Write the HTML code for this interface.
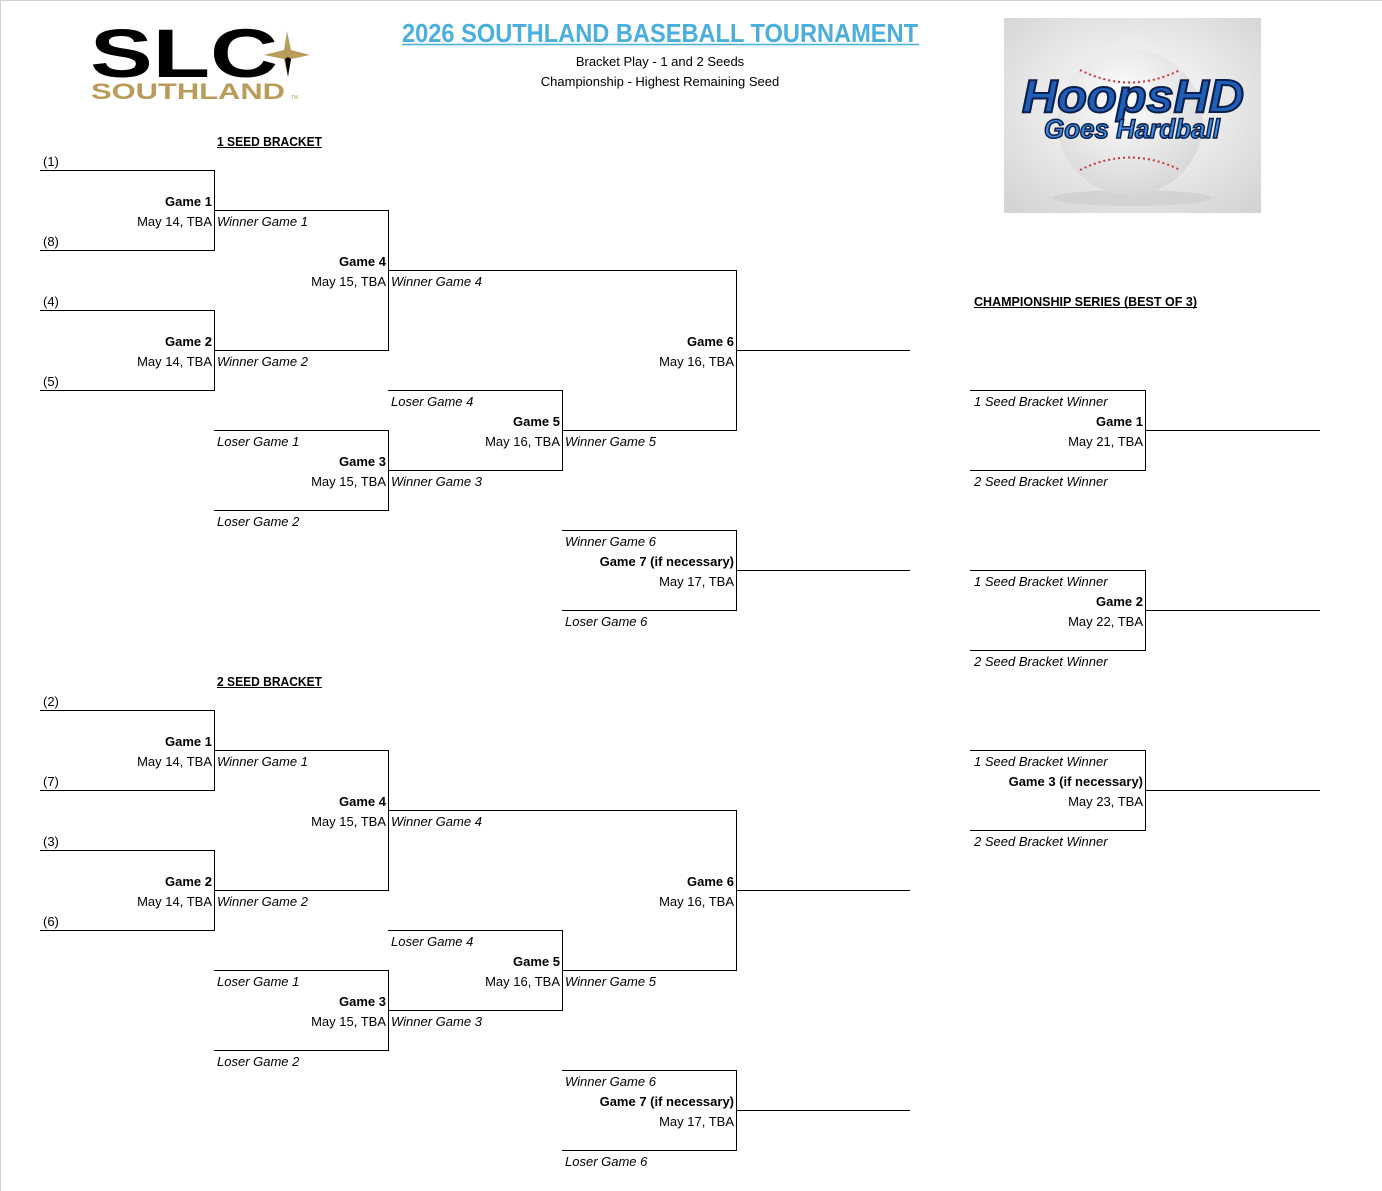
<!DOCTYPE html>
<html><head><meta charset="utf-8"><style>
html,body{margin:0;padding:0;background:#fff;}
svg{display:block;}
text{font-family:"Liberation Sans",sans-serif;font-size:13px;fill:#000;}
.b{font-weight:bold;}
.i{font-style:italic;}
</style></head><body>
<svg width="1382" height="1191" viewBox="0 0 1382 1191" xmlns="http://www.w3.org/2000/svg">
<rect x="0.5" y="0.5" width="1390" height="1200" fill="#fff" stroke="#d0d0d0"/>
<!-- SLC logo -->
<text x="90" y="78" transform="translate(0,-40) scale(1,1.5)" style="font-size:46px;font-weight:900;" textLength="188" lengthAdjust="spacingAndGlyphs" dy="0">SLC</text>
<path d="M287 31 L291 50 L310 55 L291 59 L288 78 L284 59 L264 55 L284 50 Z" fill="#b99b5a"/>
<path d="M288 57 L291 59 L288 76 L285 59 Z" fill="#000"/>
<text x="91" y="99" style="font-size:22px;font-weight:900;fill:#b99b5a" textLength="194" lengthAdjust="spacingAndGlyphs">SOUTHLAND</text>
<text x="291" y="99" style="font-size:5px;fill:#b99b5a">TM</text>
<!-- Title -->
<text x="660" y="42" text-anchor="middle" style="font-size:26px;font-weight:bold;fill:#4aaedf" textLength="516" lengthAdjust="spacingAndGlyphs">2026 SOUTHLAND BASEBALL TOURNAMENT</text>
<line x1="402" y1="44.5" x2="919" y2="44.5" stroke="#4aaedf" stroke-width="1.5"/>
<text x="660" y="66" text-anchor="middle" style="font-size:13px">Bracket Play - 1 and 2 Seeds</text>
<text x="660" y="86" text-anchor="middle" style="font-size:13px">Championship - Highest Remaining Seed</text>
<!-- HoopsHD logo -->
<defs>
<radialGradient id="bg" cx="50%" cy="45%" r="70%"><stop offset="0" stop-color="#ffffff"/><stop offset="1" stop-color="#d4d4d4"/></radialGradient>
<radialGradient id="ball" cx="45%" cy="35%" r="65%"><stop offset="0" stop-color="#ffffff"/><stop offset="1" stop-color="#d8d8d8"/></radialGradient>
</defs>
<rect x="1004" y="18" width="257" height="195" fill="url(#bg)"/>
<ellipse cx="1132" cy="198" rx="80" ry="8" fill="#c9c9c9" opacity="0.6"/>
<circle cx="1130" cy="122" r="73" fill="url(#ball)"/>
<path d="M1080 70 Q1130 95 1180 70" stroke="#c33" stroke-width="2" fill="none" stroke-dasharray="2 3"/>
<path d="M1080 170 Q1130 145 1180 170" stroke="#c33" stroke-width="2" fill="none" stroke-dasharray="2 3"/>
<text x="1022" y="112" style="font-size:46px;font-weight:900;font-style:italic;fill:#1f5fb8;stroke:#0b1f4a;stroke-width:2" textLength="222" lengthAdjust="spacingAndGlyphs">HoopsHD</text>
<text x="1044" y="138" style="font-size:27px;font-weight:900;font-style:italic;fill:#3f8be0;stroke:#0b1f4a;stroke-width:1.5" textLength="176" lengthAdjust="spacingAndGlyphs">Goes Hardball</text>

<g stroke="#000" stroke-width="1" fill="none">
<path d="M40 170.5H214.5V250.5H40"/>
<path d="M40 310.5H214.5V390.5H40"/>
<path d="M214 210.5H388.5V350.5H214"/>
<path d="M214 430.5H388.5V510.5H214"/>
<path d="M388 390.5H562.5V470.5H388"/>
<path d="M388 270.5H736.5V430.5H562"/>
<path d="M736 350.5H910"/>
<path d="M562 530.5H736.5V610.5H562"/>
<path d="M736 570.5H910"/>
</g>
<g>
<text x="217" y="146" class="b" textLength="105" lengthAdjust="spacingAndGlyphs">1 SEED BRACKET</text>
<line x1="217" y1="147.5" x2="322" y2="147.5" stroke="#000"/>
<text x="43" y="166">(1)</text>
<text x="43" y="246">(8)</text>
<text x="43" y="306">(4)</text>
<text x="43" y="386">(5)</text>
<text x="212" y="206" class="b" text-anchor="end">Game 1</text>
<text x="212" y="226" text-anchor="end">May 14, TBA</text>
<text x="217" y="226" class="i">Winner Game 1</text>
<text x="212" y="346" class="b" text-anchor="end">Game 2</text>
<text x="212" y="366" text-anchor="end">May 14, TBA</text>
<text x="217" y="366" class="i">Winner Game 2</text>
<text x="386" y="266" class="b" text-anchor="end">Game 4</text>
<text x="386" y="286" text-anchor="end">May 15, TBA</text>
<text x="391" y="286" class="i">Winner Game 4</text>
<text x="734" y="346" class="b" text-anchor="end">Game 6</text>
<text x="734" y="366" text-anchor="end">May 16, TBA</text>
<text x="391" y="406" class="i">Loser Game 4</text>
<text x="560" y="426" class="b" text-anchor="end">Game 5</text>
<text x="560" y="446" text-anchor="end">May 16, TBA</text>
<text x="565" y="446" class="i">Winner Game 5</text>
<text x="217" y="446" class="i">Loser Game 1</text>
<text x="386" y="466" class="b" text-anchor="end">Game 3</text>
<text x="386" y="486" text-anchor="end">May 15, TBA</text>
<text x="391" y="486" class="i">Winner Game 3</text>
<text x="217" y="526" class="i">Loser Game 2</text>
<text x="565" y="546" class="i">Winner Game 6</text>
<text x="734" y="566" class="b" text-anchor="end">Game 7 (if necessary)</text>
<text x="734" y="586" text-anchor="end">May 17, TBA</text>
<text x="565" y="626" class="i">Loser Game 6</text>
</g>

<g transform="translate(0,540)">
<g stroke="#000" stroke-width="1" fill="none">
<path d="M40 170.5H214.5V250.5H40"/>
<path d="M40 310.5H214.5V390.5H40"/>
<path d="M214 210.5H388.5V350.5H214"/>
<path d="M214 430.5H388.5V510.5H214"/>
<path d="M388 390.5H562.5V470.5H388"/>
<path d="M388 270.5H736.5V430.5H562"/>
<path d="M736 350.5H910"/>
<path d="M562 530.5H736.5V610.5H562"/>
<path d="M736 570.5H910"/>
</g>
<text x="217" y="146" class="b" textLength="105" lengthAdjust="spacingAndGlyphs">2 SEED BRACKET</text>
<line x1="217" y1="147.5" x2="322" y2="147.5" stroke="#000"/>
<text x="43" y="166">(2)</text>
<text x="43" y="246">(7)</text>
<text x="43" y="306">(3)</text>
<text x="43" y="386">(6)</text>
<text x="212" y="206" class="b" text-anchor="end">Game 1</text>
<text x="212" y="226" text-anchor="end">May 14, TBA</text>
<text x="217" y="226" class="i">Winner Game 1</text>
<text x="212" y="346" class="b" text-anchor="end">Game 2</text>
<text x="212" y="366" text-anchor="end">May 14, TBA</text>
<text x="217" y="366" class="i">Winner Game 2</text>
<text x="386" y="266" class="b" text-anchor="end">Game 4</text>
<text x="386" y="286" text-anchor="end">May 15, TBA</text>
<text x="391" y="286" class="i">Winner Game 4</text>
<text x="734" y="346" class="b" text-anchor="end">Game 6</text>
<text x="734" y="366" text-anchor="end">May 16, TBA</text>
<text x="391" y="406" class="i">Loser Game 4</text>
<text x="560" y="426" class="b" text-anchor="end">Game 5</text>
<text x="560" y="446" text-anchor="end">May 16, TBA</text>
<text x="565" y="446" class="i">Winner Game 5</text>
<text x="217" y="446" class="i">Loser Game 1</text>
<text x="386" y="466" class="b" text-anchor="end">Game 3</text>
<text x="386" y="486" text-anchor="end">May 15, TBA</text>
<text x="391" y="486" class="i">Winner Game 3</text>
<text x="217" y="526" class="i">Loser Game 2</text>
<text x="565" y="546" class="i">Winner Game 6</text>
<text x="734" y="566" class="b" text-anchor="end">Game 7 (if necessary)</text>
<text x="734" y="586" text-anchor="end">May 17, TBA</text>
<text x="565" y="626" class="i">Loser Game 6</text>
</g>

<!-- Championship -->
<text x="974" y="306" class="b" textLength="223" lengthAdjust="spacingAndGlyphs">CHAMPIONSHIP SERIES (BEST OF 3)</text>
<line x1="974" y1="307.5" x2="1197" y2="307.5" stroke="#000"/>
<g stroke="#000" stroke-width="1" fill="none">
<path d="M970 390.5H1145.5V470.5H970"/><path d="M1145 430.5H1320"/>
<path d="M970 570.5H1145.5V650.5H970"/><path d="M1145 610.5H1320"/>
<path d="M970 750.5H1145.5V830.5H970"/><path d="M1145 790.5H1320"/>
</g>
<text x="974" y="406" class="i">1 Seed Bracket Winner</text>
<text x="1143" y="426" class="b" text-anchor="end">Game 1</text>
<text x="1143" y="446" text-anchor="end">May 21, TBA</text>
<text x="974" y="486" class="i">2 Seed Bracket Winner</text>
<text x="974" y="586" class="i">1 Seed Bracket Winner</text>
<text x="1143" y="606" class="b" text-anchor="end">Game 2</text>
<text x="1143" y="626" text-anchor="end">May 22, TBA</text>
<text x="974" y="666" class="i">2 Seed Bracket Winner</text>
<text x="974" y="766" class="i">1 Seed Bracket Winner</text>
<text x="1143" y="786" class="b" text-anchor="end">Game 3 (if necessary)</text>
<text x="1143" y="806" text-anchor="end">May 23, TBA</text>
<text x="974" y="846" class="i">2 Seed Bracket Winner</text>
</svg>
</body></html>
